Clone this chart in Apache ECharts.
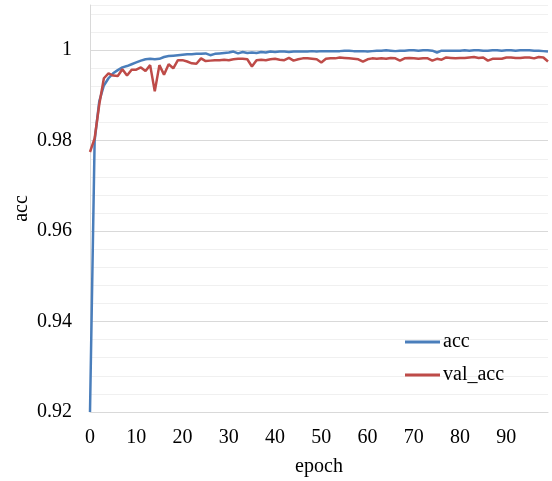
<!DOCTYPE html>
<html>
<head>
<meta charset="utf-8">
<script src="https://cdn.jsdelivr.net/npm/echarts@6/dist/echarts.min.js"></script>
<style>
  html, body { margin: 0; padding: 0; background: #fff; }
  #chart { width: 552px; height: 481px; }
</style>
</head>
<body>
<div id="chart"></div>
<script>
// epochs 0..99
const epochs = Array.from({ length: 100 }, (_, i) => i);

const acc = [
  0.9200, 0.9800, 0.9887, 0.9922, 0.9938, 0.9949, 0.9956, 0.9962, 0.9965, 0.9969,
  0.9973, 0.9977, 0.9980, 0.9981, 0.9980, 0.9981, 0.9985, 0.9987, 0.9988, 0.9989,
  0.9990, 0.9991, 0.9991, 0.9992, 0.9992, 0.9993, 0.9989, 0.9992, 0.9993, 0.9994,
  0.9995, 0.9997, 0.9993, 0.9996, 0.9994, 0.9995, 0.9994, 0.9996, 0.9995, 0.9997,
  0.9996, 0.9997, 0.9997, 0.9996, 0.9997, 0.9997, 0.9997, 0.9997, 0.9998, 0.9997,
  0.9998, 0.9998, 0.9998, 0.9998, 0.9998, 0.9999, 0.9999, 0.9998, 0.9998, 0.9998,
  0.9997, 0.9998, 0.9999, 0.9999, 1.0000, 0.9999, 0.9998, 0.9999, 0.9999, 1.0000,
  1.0000, 0.9999, 1.0000, 1.0000, 0.9999, 0.9995, 0.9999, 0.9999, 0.9999, 0.9999,
  0.9999, 1.0000, 0.9999, 1.0000, 1.0000, 0.9999, 0.9999, 1.0000, 1.0000, 0.9999,
  1.0000, 1.0000, 0.9999, 1.0000, 1.0000, 1.0000, 0.9999, 0.9999, 0.9998, 0.9997
];

const valAcc = [
  0.9775, 0.9805, 0.9880, 0.9938, 0.9949, 0.9944, 0.9943, 0.9958, 0.9944, 0.9957,
  0.9957, 0.9962, 0.9954, 0.9967, 0.9909, 0.9967, 0.9946, 0.9969, 0.9960, 0.9978,
  0.9978, 0.9975, 0.9971, 0.9970, 0.9982, 0.9976, 0.9977, 0.9978, 0.9978, 0.9979,
  0.9978, 0.9980, 0.9981, 0.9981, 0.9980, 0.9964, 0.9978, 0.9979, 0.9978, 0.9980,
  0.9981, 0.9979, 0.9978, 0.9983, 0.9977, 0.9980, 0.9982, 0.9982, 0.9981, 0.9980,
  0.9973, 0.9981, 0.9982, 0.9982, 0.9984, 0.9983, 0.9982, 0.9981, 0.9980, 0.9975,
  0.9980, 0.9982, 0.9981, 0.9982, 0.9981, 0.9983, 0.9982, 0.9977, 0.9982, 0.9983,
  0.9982, 0.9981, 0.9982, 0.9982, 0.9977, 0.9981, 0.9979, 0.9984, 0.9983, 0.9982,
  0.9983, 0.9983, 0.9984, 0.9985, 0.9983, 0.9984, 0.9977, 0.9981, 0.9981, 0.9981,
  0.9984, 0.9984, 0.9983, 0.9983, 0.9984, 0.9984, 0.9982, 0.9985, 0.9984, 0.9975
];

const font = '"Liberation Serif", "Times New Roman", serif';
const chart = echarts.init(document.getElementById('chart'));

chart.setOption({
  backgroundColor: '#fff',
  animation: false,
  textStyle: { fontFamily: font, color: '#000' },
  grid: { left: 90, right: 4, top: 5, bottom: 69, outerBoundsMode: 'none', containLabel: false },
  legend: {
    orient: 'vertical',
    left: 400, top: 327,
    icon: 'rect',
    itemWidth: 35, itemHeight: 3, itemGap: 13,
    textStyle: { fontFamily: font, fontSize: 20, color: '#000', padding: [0, 0, 0, -2] },
    data: ['acc', 'val_acc']
  },
  xAxis: {
    type: 'value', min: 0, max: 99, interval: 10,
    name: 'epoch', nameLocation: 'middle', nameGap: 45, nameMoveOverlap: false,
    nameTextStyle: { fontFamily: font, fontSize: 20, color: '#000' },
    axisLine: { show: true, lineStyle: { color: '#d9d9d9', width: 1 } },
    axisTick: { show: false },
    axisLabel: {
      fontFamily: font, fontSize: 20, color: '#000', margin: 16,
      formatter: v => (v <= 90 ? String(v) : '')
    },
    splitLine: { show: false }
  },
  yAxis: {
    type: 'value', min: 0.92, max: 1.01, interval: 0.004,
    name: 'acc', nameLocation: 'middle', nameGap: 58, nameMoveOverlap: false,
    nameTextStyle: { fontFamily: font, fontSize: 20, color: '#000' },
    axisLine: { show: true, lineStyle: { color: '#d9d9d9', width: 1 } },
    axisTick: { show: false },
    axisLabel: {
      fontFamily: font, fontSize: 20, color: '#000', margin: 18,
      formatter: v => {
        const k = Math.round((v - 0.92) / 0.004);
        if (k % 5 !== 0 || v > 1.005) return '';
        return String(+v.toFixed(2));
      }
    },
    splitLine: {
      show: true,
      lineStyle: { color: ['#d9d9d9', '#f0f0f0', '#f0f0f0', '#f0f0f0', '#f0f0f0'], width: 1 }
    }
  },
  series: [
    {
      name: 'acc', type: 'line', symbol: 'none',
      data: epochs.map((e, i) => [e, acc[i]]),
      lineStyle: { color: '#4a7ebb', width: 2.5 },
      itemStyle: { color: '#4a7ebb' }
    },
    {
      name: 'val_acc', type: 'line', symbol: 'none',
      data: epochs.map((e, i) => [e, valAcc[i]]),
      lineStyle: { color: '#be4b48', width: 2.5 },
      itemStyle: { color: '#be4b48' }
    }
  ]
});
</script>
</body>
</html>
